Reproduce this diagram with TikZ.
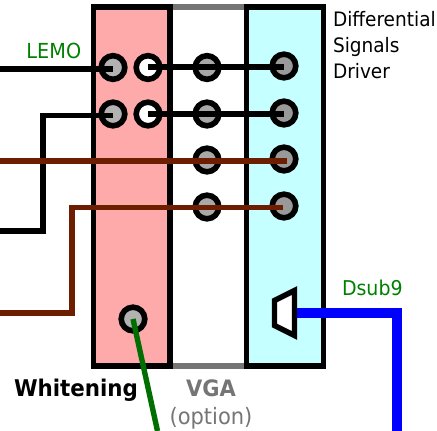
\documentclass[tikz,border=0pt]{standalone}
\usepackage{fontspec}
\setmainfont[FakeStretch=0.93]{DejaVu Sans}
\definecolor{redfill}{HTML}{FFAAAA}
\definecolor{cyanfill}{HTML}{C6FFFF}
\definecolor{brownw}{HTML}{6E1E00}
\definecolor{greenw}{HTML}{006E00}
\definecolor{greent}{HTML}{008000}
\definecolor{grayl}{HTML}{757575}
\definecolor{blueb}{HTML}{0000FF}
\tikzset{
  bx/.style={draw=black,line width=5.4pt},
  pin/.style={circle,draw=black,line width=5.6pt,minimum size=23.6pt,inner sep=0pt,outer sep=0pt},
  pinl/.style={pin,fill=black!30},
  pinm/.style={pin,fill=black!34},
  pinr/.style={pin,fill=black!40},
  pinw/.style={pin,fill=white},
  wire/.style={line width=5.4pt,line cap=butt,line join=miter},
  blackw/.style={wire,draw=black},
  brw/.style={wire,draw=brownw},
  lab/.style={inner sep=0pt,outer sep=0pt},
}
\begin{document}
\begin{tikzpicture}[x=1pt,y=-1pt]
\useasboundingbox (0,0) rectangle (437,431);
% boxes
\fill[redfill] (93.5,7) rectangle (170,366);
\fill[cyanfill] (246.5,7) rectangle (323.5,366);
\draw[grayl,line width=5.4pt] (170,7) -- (246.5,7) (170,366) -- (246.5,366);
\draw[bx] (93.5,7) rectangle (170,366);
\draw[bx] (246.5,7) rectangle (323.5,366);
% pins
\node[pinl] (l1) at (113,67.5) {};
\node[pinl] (l2) at (113,114) {};
\node[pinw] (w1) at (148,67.5) {};
\node[pinw] (w2) at (148,114) {};
\node[pinm] (m1) at (207,67.5) {};
\node[pinm] (m2) at (207,114) {};
\node[pinm] (m3) at (207,160) {};
\node[pinm] (m4) at (207,207) {};
\node[pinr] (r1) at (284,66) {};
\node[pinr] (r2) at (284,113) {};
\node[pinr] (r3) at (284,159) {};
\node[pinr] (r4) at (284,206) {};
\node[pinl] (wh) at (133,319) {};
% free ends
\coordinate (a1) at (0,69);
\coordinate (a2) at (0,231);
\coordinate (a3) at (0,161);
\coordinate (a4) at (0,313);
\coordinate (g) at (157.5,431);
\coordinate (d) at (397,431);
% wires
\draw[blackw] (a1) -- (l1.center |- a1);
\draw[blackw] (a2) -| (43,115.5) -- (l2.center |- 0,115.5);
\draw[blackw] (w1.center |- 0,67) -- (r1.center |- 0,67);
\draw[blackw] (w2.center |- 0,114) -- (r2.center |- 0,114);
\draw[brw] (a3) -- (287,161);
\draw[brw] (a4) -| (72,207.5) -- (283,207.5);
\draw[greenw,wire] (wh.center) -- (g);
% dsub
\draw[black,line width=5.4pt,fill=white,line join=miter] (274.5,300.5) -- (294.5,290.5) -- (294.5,335.5) -- (274.5,325.5) -- cycle;
\coordinate (ds) at (297,313);
\draw[blueb,line width=10.4pt,line join=miter] (ds) -| (d);
% text
\node[lab,text=greent,font=\fontsize{20.7}{20.7}\selectfont,anchor=base west] (tl) at (26.5,58) {LEMO};
\node[lab,text=greent,font=\fontsize{20.4}{20.4}\selectfont,anchor=base west] (td) at (342,295) {Dsub9};
\node[lab,font=\fontsize{19.9}{19.9}\selectfont,anchor=base west] (t1) at (333,27) {Differential};
\node[lab,font=\fontsize{19.9}{19.9}\selectfont,anchor=base west] (t2) at (333,52.5) {Signals};
\node[lab,font=\fontsize{19.9}{19.9}\selectfont,anchor=base west] (t3) at (333,78) {Driver};
\node[lab,font=\fontsize{23}{23}\selectfont\bfseries,anchor=base west] (t4) at (14,396) {Whitening};
\node[lab,text=grayl,font=\fontsize{22.6}{22.6}\selectfont\bfseries,anchor=base] (t5) at (211,396) {VGA};
\node[lab,text=grayl,font=\fontsize{22.6}{22.6}\selectfont,anchor=base] (t6) at (211,424) {(option)};
\end{tikzpicture}
\end{document}
